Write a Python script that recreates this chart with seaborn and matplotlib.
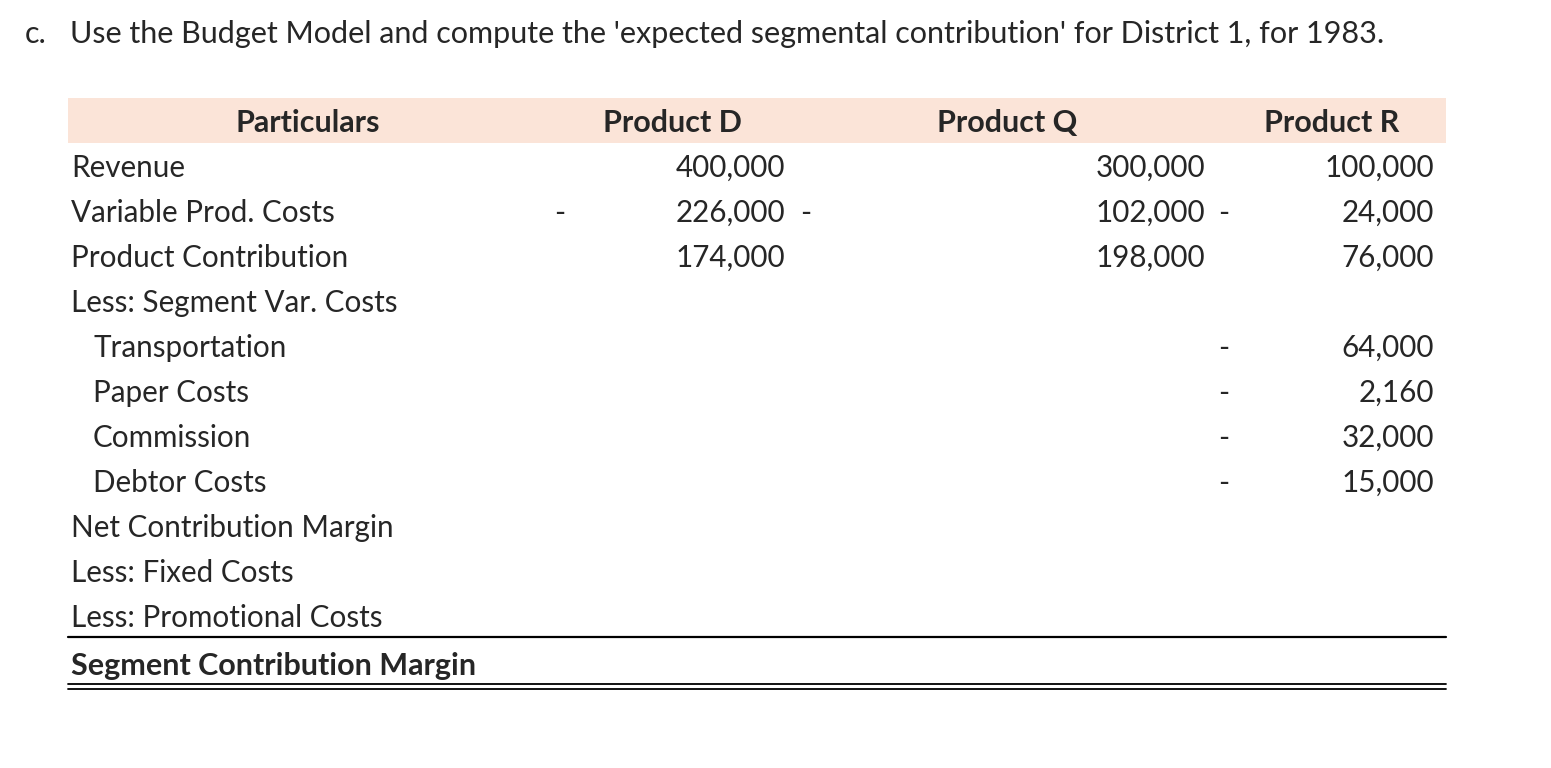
import matplotlib.pyplot as plt
import seaborn as sns

# Table content
title = "Use the Budget Model and compute the 'expected segmental contribution' for District 1, for 1983."
headers = ["Particulars", "Product D", "Product Q", "Product R"]
particulars = ["Revenue", "Variable Prod. Costs", "Product Contribution",
               "Less: Segment Var. Costs", "Transportation", "Paper Costs",
               "Commission", "Debtor Costs", "Net Contribution Margin",
               "Less: Fixed Costs", "Less: Promotional Costs",
               "Segment Contribution Margin"]
indented = [False, False, False, False, True, True, True, True, False, False, False, False]
product_d = [400000, -226000, 174000, None, None, None, None, None, None, None, None, None]
product_q = [300000, -102000, 198000, None, None, None, None, None, None, None, None, None]
product_r = [100000, -24000, 76000, None, -64000, -2160, -32000, -15000, None, None, None, None]

sns.set_theme(style="white")
plt.rcParams['font.family'] = ['Lato', 'DejaVu Sans']

fig = plt.figure(figsize=(15.51, 7.68), dpi=100)
ax = fig.add_axes([0, 0, 1, 1])
ax.set_xlim(0, 1551)
ax.set_ylim(768, 0)
ax.axis('off')

fs = 21.3
fs_bold = 22
ax.text(25, 34, "c.", fontsize=22, va='center', ha='left')
ax.text(70, 34, title, fontsize=22, va='center', ha='left')

# header band
left, right = 68, 1446
ax.fill_between([left, right], 98, 143, color='#FBE4D8', lw=0)
header_x = [308, 672, 1007, 1332]
for hx, h in zip(header_x, headers):
    ax.text(hx, 123, h, fontsize=fs_bold, fontweight='bold', ha='center', va='center')

row_y = [168 + 45 * i for i in range(len(particulars))]
row_y[-1] = 666

# value columns: right edge of number, position of the minus sign
cols = [(product_d, 785, 560), (product_q, 1205, 806), (product_r, 1434, 1224)]

for i, (lab, y) in enumerate(zip(particulars, row_y)):
    bold = i == len(particulars) - 1
    ax.text(93 if indented[i] else 71, y, lab,
            fontsize=fs_bold if bold else fs,
            fontweight='bold' if bold else 'normal', ha='left', va='center')
    for vals, xr, xd in cols:
        v = vals[i]
        if v is None:
            continue
        ax.text(xr, y, f"{abs(v):,}", fontsize=fs, ha='right', va='center')
        if v < 0:
            ax.text(xd, y, "-", fontsize=fs, ha='center', va='center')

# rules
ax.plot([left, right], [637, 637], color='black', lw=1.6)
ax.plot([left, right], [684, 684], color='black', lw=1.3)
ax.plot([left, right], [688.5, 688.5], color='black', lw=1.3)

fig.savefig('out.png', dpi=100)
